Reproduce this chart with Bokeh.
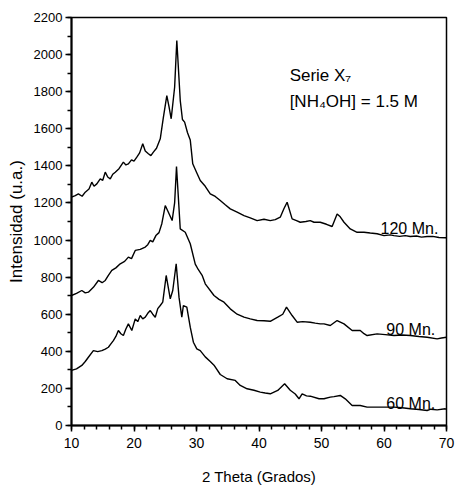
from bokeh.plotting import figure
from bokeh.models import SingleIntervalTicker, Label, Range1d
from bokeh.embed import file_html
from bokeh.resources import INLINE

# ---- data (2 Theta in degrees, intensity in a.u.) ----
x_120 = [10, 10.6, 11.1, 11.7, 12.2, 12.8, 13.25, 13.6, 14.05, 14.6, 15.0, 15.4, 15.8, 16.2, 16.6, 17.0,
         17.6, 18.3, 18.7, 19.1, 19.6, 20.0, 20.45, 20.9, 21.4, 21.8, 22.3, 22.7, 23.1, 23.6, 24.2, 24.7,
         25.25, 25.6, 25.95, 26.5, 26.85, 27.4, 27.75, 28.1, 28.55, 29.0, 29.4, 30.0, 30.6, 31.4, 32.2,
         33.0, 33.8, 34.6, 35.4, 36.5, 37.6, 38.6, 39.7, 40.8, 41.8, 42.6, 43.4, 44.0, 44.5, 45.3, 46.0,
         46.6, 47.5, 48.2, 48.8, 49.8, 50.8, 51.7, 52.5, 53.0, 53.6, 54.6, 55.7, 56.8, 57.8, 58.9, 60.0,
         61.0, 61.6, 62.5, 63.4, 64.2, 65.2, 66.0, 66.9, 67.8, 68.8, 69.8, 70]
y_120 = [1231, 1240, 1249, 1236, 1258, 1275, 1312, 1290, 1303, 1330, 1322, 1366, 1340, 1330, 1355, 1366,
         1385, 1420, 1405, 1411, 1432, 1425, 1447, 1470, 1519, 1480, 1465, 1455, 1474, 1495, 1546, 1662,
         1779, 1720, 1654, 1824, 2076, 1752, 1650, 1636, 1580, 1540, 1411, 1366, 1321, 1290, 1249,
         1235, 1213, 1190, 1168, 1150, 1132, 1120, 1105, 1112, 1105, 1110, 1123, 1170, 1204, 1114, 1105,
         1096, 1100, 1105, 1096, 1096, 1085, 1073, 1141, 1125, 1096, 1060, 1042, 1042, 1038, 1034, 1024,
         1028, 1024, 1020, 1024, 1019, 1022, 1016, 1019, 1020, 1014, 1012, 1012]

x_90 = [10, 10.8, 11.65, 12.2, 12.7, 13.5, 14.3, 14.9, 15.4, 15.9, 16.45, 17.1, 17.8, 18.5, 19.1, 19.6,
        20.2, 21.0, 21.8, 22.2, 22.6, 23.0, 23.5, 24.0, 24.45, 25.0, 25.5, 26.1, 26.5, 26.8, 27.4, 28.2,
        29.0, 29.8, 30.3, 30.9, 31.4, 32.8, 33.6, 34.4, 35.4, 36.5, 37.6, 38.6, 39.7, 40.8, 41.8, 43.0,
        43.8, 44.4, 45.3, 46.1, 47.0, 48.2, 49.0, 49.8, 50.4, 51.4, 52.5, 53.6, 54.9, 56.2, 56.8, 57.3,
        58.9, 60.2, 61.6, 62.9, 64.2, 65.6, 66.9, 68.5, 69.2, 70]
y_90 = [701, 712, 728, 715, 719, 745, 782, 770, 782, 810, 836, 850, 872, 885, 908, 900,
        944, 950, 962, 975, 998, 990, 1024, 1040, 1088, 1186, 1150, 1105, 1200, 1397, 1060, 1042,
        980, 870, 840, 810, 764, 701, 680, 665, 629, 600, 584, 575, 566, 565, 562, 584,
        600, 638, 593, 557, 560, 557, 552, 548, 548, 539, 566, 548, 512, 512, 495, 485,
        494, 490, 485, 488, 485, 480, 476, 467, 472, 476]

x_60 = [10, 10.8, 11.65, 12.2, 12.7, 13.5, 14.2, 14.85, 15.4, 15.9, 16.3, 16.7, 17.1, 17.5, 17.9, 18.3,
        18.7, 19.1, 19.65, 20.2, 20.6, 21.0, 21.4, 21.8, 22.2, 22.6, 23.0, 23.4, 23.8, 24.2, 24.6, 25.15,
        25.8, 26.2, 26.75, 27.2, 27.65, 27.9, 28.45, 29.0, 29.5, 30.05, 30.6, 31.4, 32.2, 32.8, 33.8,
        34.9, 36.2, 37.0, 38.1, 39.2, 40.2, 41.0, 41.8, 43.0, 44.1, 45.0, 45.8, 46.4, 46.9, 47.6, 48.2,
        49.6, 50.4, 51.4, 52.0, 53.0, 53.8, 54.9, 56.2, 57.3, 58.9, 60.2, 61.6, 62.9, 64.2, 65.6, 66.9,
        67.5, 68.5, 69.8, 70]
y_60 = [297, 305, 324, 345, 368, 404, 398, 404, 412, 422, 440, 458, 480, 512, 495, 485,
        520, 548, 512, 575, 560, 593, 575, 584, 605, 620, 600, 584, 630, 647, 665, 809,
        683, 728, 872, 692, 584, 647, 638, 530, 449, 413, 404, 370, 345, 325, 275,
        252, 243, 216, 198, 190, 180, 175, 171, 189, 225, 190, 170, 144, 171, 160, 158,
        144, 144, 153, 156, 162, 144, 108, 108, 99, 99, 99, 99, 96, 90, 86, 81,
        88, 84, 90, 88]

series_labels = ["120 Mn.", "90 Mn.", "60 Mn."]
title_lines = ["Serie X\u2087", "[NH\u2084OH] = 1.5 M"]
x_title = "2 Theta (Grados)"
y_title = "Intensidad (u.a.)"

FONT = "'Liberation Sans', Arial, sans-serif"

p = figure(width=455, height=489, output_backend="svg", toolbar_location=None,
           x_range=Range1d(10, 70), y_range=Range1d(0, 2200),
           min_border_left=71, min_border_right=9, min_border_top=17, min_border_bottom=64)
p.background_fill_color = "white"
p.border_fill_color = "white"
p.outline_line_color = "black"
p.outline_line_width = 1.5
p.xgrid.visible = False
p.ygrid.visible = False

for xs, ys in [(x_120, y_120), (x_90, y_90), (x_60, y_60)]:
    p.line(xs, ys, line_color="black", line_width=1.4)

p.xaxis.ticker = SingleIntervalTicker(interval=10, num_minor_ticks=5)
p.yaxis.ticker = SingleIntervalTicker(interval=200, num_minor_ticks=2)
for ax in (p.xaxis[0], p.yaxis[0]):
    ax.axis_line_width = 2
    ax.axis_line_color = "black"
    ax.major_tick_line_color = "black"
    ax.minor_tick_line_color = "black"
    ax.major_tick_line_width = 1.5
    ax.minor_tick_line_width = 1.5
    ax.major_tick_in = 0
    ax.major_tick_out = 6
    ax.minor_tick_in = 0
    ax.minor_tick_out = 4
    ax.major_label_text_font = FONT
    ax.major_label_text_color = "black"
    ax.axis_label_text_color = "black"
    ax.axis_label_text_font = FONT
    ax.axis_label_text_font_style = "normal"

p.xaxis.major_label_text_font_size = "14px"
p.yaxis.major_label_text_font_size = "13px"

p.xaxis.axis_label = x_title
p.xaxis.axis_label_text_font_size = "15px"
p.xaxis.axis_label_standoff = 17
p.xaxis.major_label_standoff = 6

p.yaxis.axis_label = y_title
p.yaxis.axis_label_text_font_size = "17px"
p.yaxis.axis_label_standoff = 5
p.yaxis.major_label_standoff = 3

label_pos = [(68.7, 1062), (68.2, 518), (68.2, 119)]
for txt, (lx, ly) in zip(series_labels, label_pos):
    p.add_layout(Label(x=lx, y=ly, text=txt, text_align="right", text_baseline="alphabetic",
                       text_font=FONT, text_font_size="16px", text_color="black"))

p.add_layout(Label(x=44.9, y=1887, text=title_lines[0], text_align="left", text_baseline="alphabetic",
                   text_font=FONT, text_font_size="17px", text_color="black"))
p.add_layout(Label(x=44.9, y=1747, text=title_lines[1], text_align="left", text_baseline="alphabetic",
                   text_font=FONT, text_font_size="17px", text_color="black"))

open("out.html", "w").write(file_html(p, INLINE))
